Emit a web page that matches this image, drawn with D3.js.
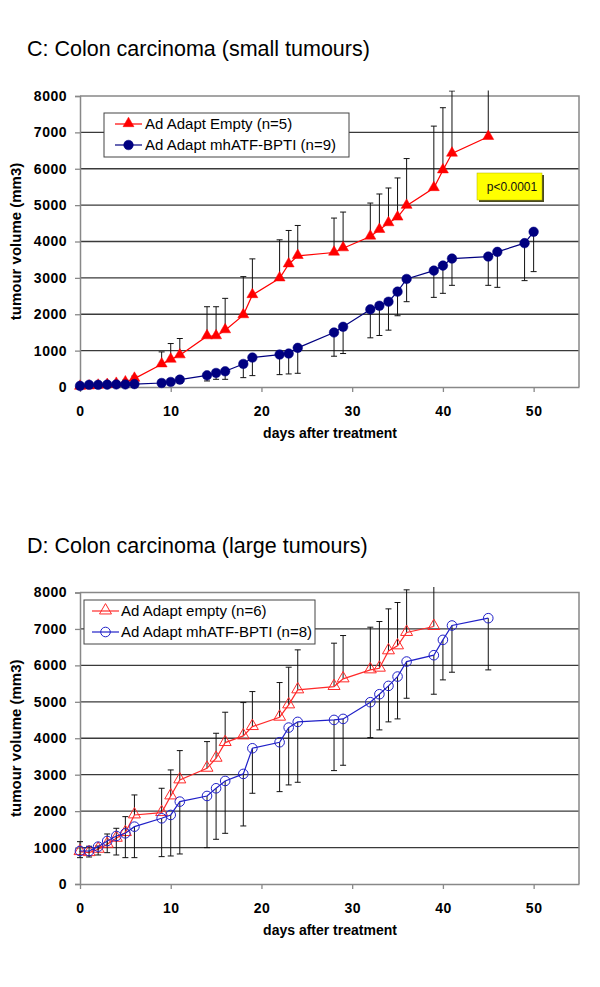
<!DOCTYPE html>
<html>
<head>
<meta charset="utf-8">
<script src="https://cdn.jsdelivr.net/npm/d3@7"></script>
<style>
  body { margin: 0; background: #fff; }
  svg { display: block; }
  text { font-family: Arial, "Liberation Sans", sans-serif; }
</style>
</head>
<body>
<svg id="chart" width="600" height="987"></svg>
<script>
// Panel C: small tumours
const cEmptyDays = [0, 1, 2, 3, 4, 5, 6, 9, 10, 11, 14, 15, 16, 18, 19, 22, 23, 24, 28, 29, 32, 33, 34, 35, 36, 39, 40, 41, 45];
const cEmptyMean = [10, 20, 40, 60, 90, 130, 230, 625, 754, 874, 1398, 1398, 1563, 1977, 2529, 2989, 3375, 3605, 3697, 3816, 4138, 4322, 4506, 4662, 4984, 5471, 5959, 6418, 6878];
const cEmptyUpper = [30, 45, 70, 100, 140, 190, 300, 965, 1195, 1333, 2207, 2207, 2437, 3034, 3522, 4046, 4303, 4441, 4644, 4809, 5057, 5306, 5471, 5747, 6280, 7172, 7678, 8138, 8600];

const cAtfDays = [0, 1, 2, 3, 4, 5, 6, 9, 10, 11, 14, 15, 16, 18, 19, 22, 23, 24, 28, 29, 32, 33, 34, 35, 36, 39, 40, 41, 45, 46, 49, 50];
const cAtfMean = [30, 60, 60, 65, 70, 70, 80, 110, 138, 202, 322, 386, 432, 634, 809, 892, 920, 1076, 1499, 1655, 2133, 2234, 2345, 2621, 2970, 3200, 3338, 3531, 3586, 3715, 3954, 4267];
const cAtfLower = [10, 30, 30, 35, 40, 40, 50, 60, 80, 100, 166, 211, 211, 257, 313, 340, 359, 377, 846, 920, 1352, 1416, 1563, 1959, 2345, 2464, 2575, 2795, 2795, 2740, 2924, 3172];

// Panel D: large tumours
const dEmptyDays = [0, 1, 2, 3, 4, 5, 6, 9, 10, 11, 14, 15, 16, 18, 19, 22, 23, 24, 28, 29, 32, 33, 34, 35, 36, 39];
const dEmptyMean = [888, 860, 952, 1089, 1254, 1410, 1895, 1959, 2416, 2856, 3176, 3451, 3881, 4064, 4320, 4577, 4915, 5327, 5419, 5629, 5876, 5922, 6398, 6535, 6902, 7066];
const dEmptyUpper = [1162, 1036, 1043, 1373, 1529, 1849, 2444, 2627, 3130, 3661, 3908, 4137, 4714, 4979, 5281, 5529, 5950, 6426, 6609, 6819, 7048, 7204, 7551, 7725, 8073, 8600];

const dAtfDays = [0, 1, 2, 3, 4, 5, 6, 9, 10, 11, 14, 15, 16, 18, 19, 22, 23, 24, 28, 29, 32, 33, 34, 35, 36, 39, 40, 41, 45];
const dAtfMean = [906, 906, 1025, 1181, 1318, 1391, 1574, 1803, 1895, 2261, 2416, 2627, 2828, 3021, 3725, 3890, 4293, 4449, 4503, 4531, 4989, 5208, 5437, 5693, 6105, 6279, 6700, 7094, 7295];
const dAtfLower = [723, 741, 796, 860, 796, 723, 723, 751, 769, 824, 998, 1227, 1391, 1593, 2490, 2535, 2719, 2792, 3112, 3259, 4018, 4229, 4449, 4531, 5098, 5208, 5602, 5812, 5876];

const yTicks = [0, 1000, 2000, 3000, 4000, 5000, 6000, 7000, 8000];
const xTicks = [0, 10, 20, 30, 40, 50];

const svg = d3.select('#chart');

function zip(days, mean, err) {
  return days.map((d, i) => ({ day: d, v: mean[i], e: err[i] }));
}

function drawPanel(p) {
  const left = 80, right = 579;
  const x = d3.scaleLinear().domain([0, 55]).range([left, right]);
  const y = d3.scaleLinear().domain([0, 8000]).range([p.bottom, p.top]);
  const g = svg.append('g');

  // title
  g.append('text')
    .attr('x', 27).attr('y', p.top - 40)
    .style('font-size', '21.5px').attr('fill', '#000')
    .text(p.title);

  // gridlines
  g.append('g').selectAll('line')
    .data(yTicks.filter(t => t > 0 && t < 8000))
    .enter().append('line')
    .attr('x1', left).attr('x2', right)
    .attr('y1', d => y(d)).attr('y2', d => y(d))
    .attr('stroke', '#3a3a3a').attr('stroke-width', 1.3);

  // plot border (top + right)
  g.append('path')
    .attr('d', `M${left},${y(8000)}H${right}V${y(0)}`)
    .attr('fill', 'none').attr('stroke', '#888').attr('stroke-width', 1.5);

  // axes
  const ya = g.append('g').attr('transform', `translate(${left},0)`)
    .call(d3.axisLeft(y).tickValues(yTicks).tickSize(5).tickPadding(8).tickFormat(d3.format('d')));
  const xa = g.append('g').attr('transform', `translate(0,${p.bottom})`)
    .call(d3.axisBottom(x).tickValues(xTicks).tickSize(5).tickPadding(14).tickSizeOuter(0));
  [ya, xa].forEach(a => {
    a.select('.domain').attr('stroke', '#888').attr('stroke-width', 1.5);
    a.selectAll('.tick line').attr('stroke', '#888').attr('stroke-width', 1.3);
    a.selectAll('.tick text')
      .style('font-size', '14px').style('font-weight', 'bold')
      .style('letter-spacing', '0.5px').attr('fill', '#000')
      .style('font-family', 'Arial, "Liberation Sans", sans-serif');
  });

  // axis titles
  g.append('text')
    .attr('x', 330).attr('y', p.bottom + 51)
    .attr('text-anchor', 'middle')
    .style('font-size', '14px').style('font-weight', 'bold')
    .text('days after treatment');
  g.append('text')
    .attr('transform', `translate(21,${(p.top + p.bottom) / 2}) rotate(-90)`)
    .attr('text-anchor', 'middle')
    .style('font-size', '15px').style('font-weight', 'bold')
    .text('tumour volume (mm3)');

  // clip for error bars (Excel lets them run a little above the plot top)
  const clipId = 'clip' + p.key;
  svg.append('clipPath').attr('id', clipId)
    .append('rect').attr('x', left - 10).attr('y', p.top - 5.5)
    .attr('width', right - left + 20).attr('height', p.bottom - p.top + 10);

  const line = d3.line().x(d => x(d.day)).y(d => y(d.v));

  p.series.forEach(s => {
    const data = zip(s.days, s.mean, s.err);
    const eb = g.append('g').attr('clip-path', `url(#${clipId})`)
      .attr('stroke', '#111').attr('stroke-width', 1);
    eb.selectAll('line.v').data(data).enter().append('line')
      .attr('x1', d => x(d.day)).attr('x2', d => x(d.day))
      .attr('y1', d => y(d.v)).attr('y2', d => y(d.e));
    eb.selectAll('line.c').data(data).enter().append('line')
      .attr('x1', d => x(d.day) - 3).attr('x2', d => x(d.day) + 3)
      .attr('y1', d => y(d.e)).attr('y2', d => y(d.e));

    g.append('path').datum(data)
      .attr('d', line).attr('fill', 'none')
      .attr('stroke', s.color).attr('stroke-width', 1.2);

    drawMarkers(g, data.map(d => [x(d.day), y(d.v)]), s);
  });

  // legend
  const lg = g.append('g').attr('transform', `translate(${p.legend.x},${p.legend.y})`);
  lg.append('rect').attr('width', p.legend.w).attr('height', 44)
    .attr('fill', '#fff').attr('stroke', '#444').attr('stroke-width', 1);
  p.series.forEach((s, i) => {
    const ry = 11 + i * 21;
    lg.append('line').attr('x1', p.legend.lx0).attr('x2', p.legend.lx1)
      .attr('y1', ry).attr('y2', ry)
      .attr('stroke', s.color).attr('stroke-width', 1.2);
    drawMarkers(lg, [[(p.legend.lx0 + p.legend.lx1) / 2, ry]], s);
    lg.append('text').attr('x', p.legend.tx).attr('y', ry + 5)
      .style('font-size', '15px').attr('fill', '#000')
      .text(s.label);
  });
}

function drawMarkers(g, pts, s) {
  if (s.shape === 'triangle') {
    const tri = d3.symbol(d3.symbolTriangle, s.filled ? 52 : 62);
    g.append('g').selectAll('path').data(pts).enter().append('path')
      .attr('d', tri)
      .attr('transform', d => `translate(${d[0]},${d[1] - 0.5})`)
      .attr('fill', s.filled ? s.color : 'none')
      .attr('stroke', s.color).attr('stroke-width', s.filled ? 0.5 : 1);
  } else {
    g.append('g').selectAll('circle').data(pts).enter().append('circle')
      .attr('cx', d => d[0]).attr('cy', d => d[1])
      .attr('r', 4.8)
      .attr('fill', s.filled ? s.color : 'none')
      .attr('stroke', s.color).attr('stroke-width', s.filled ? 0.5 : 1);
  }
}

function drawPBox(px, py) {
  svg.append('rect').attr('x', px + 2).attr('y', py + 2).attr('width', 65).attr('height', 27)
    .attr('fill', '#4a4a20');
  svg.append('rect').attr('x', px).attr('y', py).attr('width', 65).attr('height', 27)
    .attr('fill', '#ffff00').attr('stroke', '#b0b000').attr('stroke-width', 0.5);
  svg.append('text').attr('x', px + 35).attr('y', py + 18)
    .attr('text-anchor', 'middle').style('font-size', '12px').attr('fill', '#111')
    .text('p<0.0001');
}

drawPanel({
  key: 'C', title: 'C: Colon carcinoma (small tumours)',
  top: 96, bottom: 387,
  legend: { x: 104, y: 113, w: 245, lx0: 11, lx1: 38, tx: 41 },
  series: [
    { label: 'Ad Adapt Empty (n=5)', days: cEmptyDays, mean: cEmptyMean, err: cEmptyUpper, color: '#ff0000', shape: 'triangle', filled: true },
    { label: 'Ad Adapt mhATF-BPTI (n=9)', days: cAtfDays, mean: cAtfMean, err: cAtfLower, color: '#000080', shape: 'circle', filled: true }
  ]
});
drawPBox(477, 173);

drawPanel({
  key: 'D', title: 'D: Colon carcinoma (large tumours)',
  top: 592.5, bottom: 884,
  legend: { x: 84, y: 600, w: 231, lx0: 8, lx1: 35, tx: 37 },
  series: [
    { label: 'Ad Adapt empty (n=6)', days: dEmptyDays, mean: dEmptyMean, err: dEmptyUpper, color: '#ff2a2a', shape: 'triangle', filled: false },
    { label: 'Ad Adapt mhATF-BPTI (n=8)', days: dAtfDays, mean: dAtfMean, err: dAtfLower, color: '#2020c8', shape: 'circle', filled: false }
  ]
});
</script>
</body>
</html>
